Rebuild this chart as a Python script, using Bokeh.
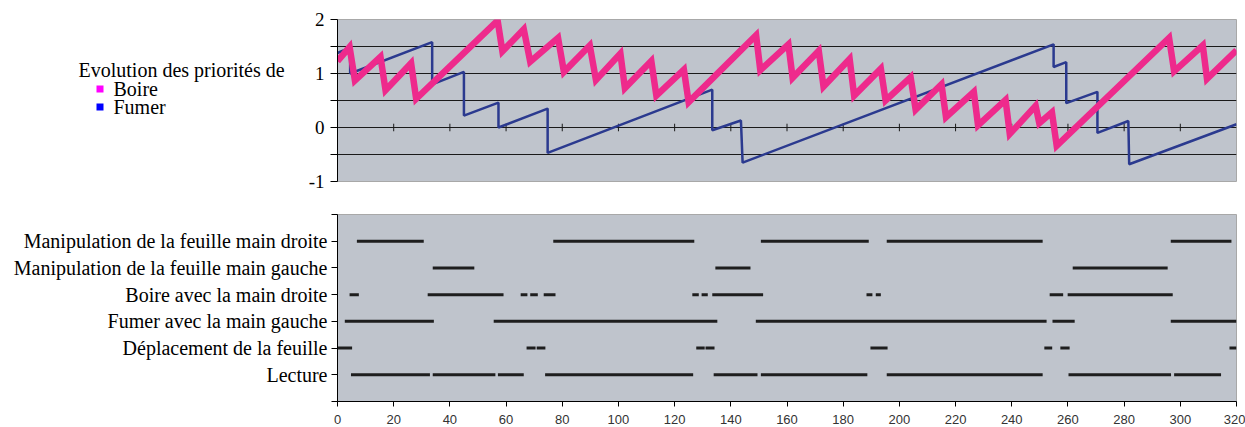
from bokeh.plotting import figure
from bokeh.layouts import column, row
from bokeh.models import FixedTicker, Range1d
from bokeh.core.properties import value
from bokeh.embed import file_html
from bokeh.resources import INLINE

# ---------------- data ----------------
x_ticks = [0, 20, 40, 60, 80, 100, 120, 140, 160, 180, 200, 220, 240, 260, 280, 300, 320]

# Priority of "Boire" (pink)
pink_x = [0, 4.3, 6.2, 15.3, 17.1, 26.2, 28.0, 57.0, 58.7, 66.3, 68.6, 78.5, 80.6, 89.8, 92.0,
          100.7, 102.3, 111.7, 113.5, 123.3, 125.0, 149.0, 150.5, 160.5, 162.0, 171.3, 173.0,
          182.3, 183.9, 193.4, 195.1, 204.0, 205.8, 215.0, 216.6, 226.5, 228.0, 237.8, 239.3,
          248.5, 249.8, 254.3, 256.0, 296.0, 297.8, 308.0, 309.5, 320]
pink_y = [1.23, 1.49, 0.87, 1.31, 0.69, 1.19, 0.53, 1.98, 1.41, 1.82, 1.22, 1.66, 1.03, 1.52, 0.88,
          1.37, 0.73, 1.23, 0.59, 1.07, 0.47, 1.71, 1.06, 1.54, 0.92, 1.42, 0.76,
          1.27, 0.59, 1.09, 0.50, 0.93, 0.33, 0.80, 0.19, 0.66, 0.04, 0.51, -0.12,
          0.40, 0.08, 0.28, -0.34, 1.66, 1.04, 1.52, 0.90, 1.43]

# Priority of "Fumer" (blue)
blue_x = [0, 4.5, 4.5, 33.7, 33.7, 45.0, 45.0, 57.3, 57.3, 74.8, 74.8, 133.4, 133.4, 143.6, 144.2,
          254.9, 254.9, 259.4, 259.4, 270.5, 270.5, 281.5, 281.8, 320]
blue_y = [1.38, 1.48, 1.00, 1.58, 0.80, 1.03, 0.22, 0.46, 0.00, 0.35, -0.47, 0.70, -0.05, 0.13, -0.65,
          1.54, 1.12, 1.21, 0.45, 0.66, -0.10, 0.12, -0.68, 0.06]

series_names = ["Boire", "Fumer"]
legend_title = "Evolution des priorités de"
y_tick_labels = {-1: "-1", 0: "0", 1: "1", 2: "2"}

categories = ["Lecture", "Déplacement de la feuille", "Fumer avec la main gauche",
              "Boire avec la main droite", "Manipulation de la feuille main gauche",
              "Manipulation de la feuille main droite"]

lecture = [(4.8, 32.9), (33.9, 56.2), (57.1, 66.3), (73.9, 126.6), (133.9, 149.5), (150.7, 188.6),
           (195.5, 251.0), (260.2, 296.7), (297.8, 314.5)]
deplacement = [(0, 5.2), (67.3, 70.5), (70.9, 74.0), (127.7, 130.7), (131.0, 134.2), (189.7, 195.8),
               (251.6, 254.4), (257.3, 260.6), (317.5, 320)]
fumer = [(2.6, 34.3), (55.6, 135.2), (148.9, 252.4), (254.5, 262.4), (296.6, 320)]
boire = [(4.3, 7.6), (32.1, 59.1), (65.2, 67.6), (68.6, 71.3), (73.4, 77.6), (126.3, 128.6),
         (129.6, 131.8), (133.4, 151.5), (188.3, 190.4), (191.6, 193.4), (253.5, 258.3), (259.9, 297.3)]
manip_gauche = [(33.9, 48.7), (134.5, 147.0), (261.7, 295.5)]
manip_droite = [(6.9, 30.7), (76.8, 127.0), (150.7, 189.1), (195.5, 251.0), (296.6, 318.2)]

activities = [lecture, deplacement, fumer, boire, manip_gauche, manip_droite]

# ---------------- styles ----------------
BG = "#BFC4CC"
SERIF = "Liberation Serif"
PINK = "#EE2A8C"
BLUE = "#2B3A8F"
TOP_H = 192
FRAME_TOP = 19
FRAME_BOTTOM = 181

# ---------------- legend panel (left of top chart, frame aligned with top chart) ----------------
leg = figure(width=300, height=TOP_H, x_range=Range1d(0, 300), y_range=Range1d(FRAME_BOTTOM, FRAME_TOP),
             output_backend="svg", toolbar_location=None, x_axis_location=None, y_axis_location=None,
             min_border_left=0, min_border_right=0, min_border_top=FRAME_TOP,
             min_border_bottom=TOP_H - FRAME_BOTTOM)
leg.outline_line_color = None
leg.grid.visible = False
leg.text(x=[78], y=[69], text=[legend_title], text_font=value(SERIF), text_font_size="20px",
         text_baseline="middle", text_color="black")
leg.scatter(x=[99.5, 99.5], y=[88.5, 106.5], marker="square", size=7,
            fill_color=["#FF00FF", "#0000FF"], line_color=None)
leg.text(x=[113, 113], y=[88, 106], text=series_names, text_font=value(SERIF), text_font_size="20px",
         text_baseline="middle", text_color="black")

# ---------------- top chart ----------------
top = figure(width=945, height=TOP_H, x_range=Range1d(0, 320), y_range=Range1d(-1, 2),
             output_backend="svg", toolbar_location=None, x_axis_location=None,
             min_border_left=37, min_border_right=9, min_border_top=FRAME_TOP,
             min_border_bottom=TOP_H - FRAME_BOTTOM)
top.background_fill_color = BG
top.outline_line_color = "#A8A8A8"
top.xgrid.visible = False
top.ygrid.ticker = FixedTicker(ticks=[-0.5, 0, 0.5, 1, 1.5])
top.ygrid.grid_line_color = "#1a1a1a"
top.ygrid.grid_line_width = 1
top.yaxis.ticker = FixedTicker(ticks=list(y_tick_labels.keys()), minor_ticks=[-0.5, 0.5, 1.5])
top.yaxis.major_label_overrides = y_tick_labels
top.yaxis.axis_line_color = "black"
top.yaxis.major_tick_out = 7
top.yaxis.major_tick_in = 0
top.yaxis.minor_tick_out = 7
top.yaxis.minor_tick_in = 0
top.yaxis.major_tick_line_color = "black"
top.yaxis.minor_tick_line_color = "black"
top.yaxis.major_label_text_font = SERIF
top.yaxis.major_label_text_font_size = "19px"
top.yaxis.major_label_text_color = "black"
top.yaxis.major_label_standoff = 6

# tick marks along the zero line
inner_ticks = x_ticks[1:-1]
top.segment(x0=inner_ticks, y0=[-0.07] * len(inner_ticks), x1=inner_ticks, y1=[0.07] * len(inner_ticks),
            line_color="#1a1a1a", line_width=1)

top.line(blue_x, blue_y, line_color=BLUE, line_width=2.5)
top.line(pink_x, pink_y, line_color=PINK, line_width=6.5, line_join="miter")

# ---------------- bottom chart ----------------
bot = figure(width=1245, height=235, x_range=Range1d(0, 320), y_range=Range1d(0, 7),
             output_backend="svg", toolbar_location=None,
             min_border_left=337, min_border_right=9, min_border_top=22, min_border_bottom=26)
bot.background_fill_color = BG
bot.outline_line_color = "#A8A8A8"
bot.grid.visible = False

bot.yaxis.ticker = FixedTicker(ticks=[0, 1, 2, 3, 4, 5, 6, 7])
overrides = {0: "", 7: ""}
for i, c in enumerate(categories):
    overrides[i + 1] = c
bot.yaxis.major_label_overrides = overrides
bot.yaxis.axis_line_color = "black"
bot.yaxis.major_tick_out = 6
bot.yaxis.major_tick_in = 0
bot.yaxis.minor_tick_line_color = None
bot.yaxis.major_label_text_font = SERIF
bot.yaxis.major_label_text_font_size = "20px"
bot.yaxis.major_label_text_color = "black"
bot.yaxis.major_label_standoff = 4

bot.xaxis.ticker = FixedTicker(ticks=x_ticks)
bot.xaxis.axis_line_color = "black"
bot.xaxis.major_tick_out = 5
bot.xaxis.major_tick_in = 0
bot.xaxis.minor_tick_line_color = None
bot.xaxis.major_label_text_font = "Liberation Sans"
bot.xaxis.major_label_text_font_size = "13px"
bot.xaxis.major_label_text_color = "#333333"
bot.xaxis.major_label_standoff = 8

x0s, x1s, ys = [], [], []
for r, segs in enumerate(activities):
    for s, e in segs:
        x0s.append(s)
        x1s.append(e)
        ys.append(r + 1)
bot.segment(x0=x0s, y0=ys, x1=x1s, y1=ys, line_color="#1E1E1E", line_width=3)

layout = column(row(leg, top), bot)
open("out.html", "w").write(file_html(layout, INLINE))
